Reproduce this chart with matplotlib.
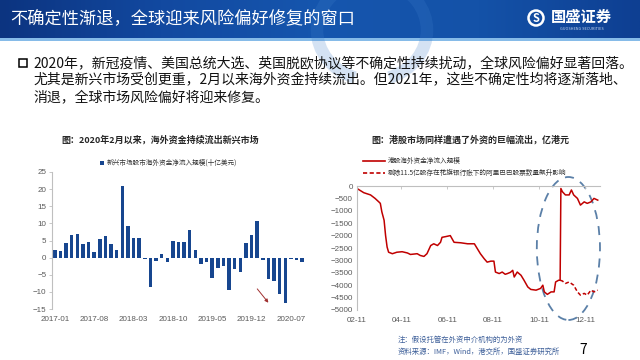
import numpy as np
import pandas as pd
import matplotlib
matplotlib.use('Agg')
import matplotlib.pyplot as plt
import matplotlib.dates as mdates
from matplotlib.patches import Rectangle, Ellipse, Arc, Circle
from matplotlib.colors import LinearSegmentedColormap

plt.rcParams['font.family'] = ['Noto Sans CJK SC', 'DejaVu Sans']

W, H = 640, 360

# 左图：新兴市场股市海外资金净流入规模（十亿美元），2017-01 ~ 2020-09
em_months = pd.date_range('2017-01-01', periods=45, freq='MS').strftime('%Y-%m')
em_flows = [2.3, 1.9, 4.2, 6.6, 6.8, 3.9, 4.5, 1.6, 5.3, 6.2, 4.1, 2.1,
            21.0, 9.2, 5.8, 5.6, -0.4, -8.6, -1.0, 1.2, -1.4, 4.8, 4.7, 4.7,
            8.2, 2.3, -2.0, -1.2, -6.0, -3.0, -2.3, -9.5, -3.2, -4.2, 4.3, 6.5,
            10.6, -0.8, -6.3, -6.9, -10.5, -13.3, -0.4, -0.6, -1.3]
em_tick_idx = [0, 7, 14, 21, 28, 35, 42]

# 右图：港股海外资金净流入规模（亿港元），2019年
hk_dates = ['02-11', '02-20', '03-01', '03-07', '03-12', '03-14', '03-16', '03-19',
            '03-21', '03-23', '03-25', '03-30', '04-05', '04-12', '04-19', '04-23',
            '05-02', '05-06', '05-11', '05-15', '05-20', '05-24', '05-29', '06-02',
            '06-04', '06-09', '06-15', '06-20', '06-29', '07-08', '07-17', '07-21',
            '07-25', '07-30', '08-03', '08-08', '08-12', '08-14', '08-19', '08-23',
            '08-27', '08-30', '09-03', '09-06', '09-08', '09-12', '09-17', '09-21',
            '09-26', '09-30', '10-07', '10-13', '10-16', '10-18', '10-22', '10-27',
            '10-31', '11-02', '11-06', '11-08', '11-09', '11-11', '11-15', '11-20',
            '11-23', '11-26', '12-01', '12-05', '12-10', '12-14', '12-19', '12-23',
            '12-28']
hk_flows = [-100, -270, -360, -500, -640, -700, -1040, -1380,
            -2000, -2460, -2670, -2730, -2670, -2650, -2700, -2760,
            -2730, -2800, -2840, -2730, -2400, -2330, -2400, -2270,
            -2070, -2040, -2000, -2270, -2290, -2330, -2330, -2530,
            -2730, -2930, -3070, -3030, -3030, -3470, -3530, -3470,
            -3560, -3530, -3480, -3400, -3670, -3470, -3600, -3800,
            -4070, -4170, -4200, -4130, -4000, -4270, -4370, -4270,
            -4270, -3870, -3800, -3800, -100, -230, -360, -360,
            -160, -360, -500, -770, -640, -700, -640, -500,
            -570]

# 剔除阿里巴巴股票数量飙升影响后的序列
adj_dates = ['11-08', '11-11', '11-15', '11-20', '11-26', '12-01', '12-05',
             '12-10', '12-14', '12-19', '12-23', '12-28']
adj_flows = [-3800, -3830, -3930, -3870, -4000, -4270, -4400,
             -4330, -4400, -4200, -4270, -4200]
hk_ticks = ['02-11', '04-11', '06-11', '08-11', '10-11', '12-11']


def box(l, t, r, b):
    return [l / W, 1 - b / H, (r - l) / W, (b - t) / H]


def to_dt(lst):
    return pd.to_datetime(['2019-' + d for d in lst])


fig = plt.figure(figsize=(6.4, 3.6), dpi=100)
fig.patch.set_facecolor('white')

# 背景层（像素坐标）
bg = fig.add_axes([0, 0, 1, 1], zorder=0)
cmap = LinearSegmentedColormap.from_list('hdr', ['#0c3480', '#1249a0', '#1656ae', '#1452a8', '#0e3f92'])
grad = np.linspace(0, 1, 256).reshape(1, -1)
bg.imshow(grad, cmap=cmap, extent=(0, 640, 38, 0), aspect='auto')
bg.add_patch(Rectangle((0, 38), 640, 3, color='#86bbe8', lw=0))
for cx, t1, t2 in [(372, 110, 250), (372, -70, 70)]:
    bg.add_patch(Arc((cx, 30), 110, 100, theta1=t1, theta2=t2, lw=9, color='#3f7fcc', alpha=0.22))
bg.set_xlim(0, W)
bg.set_ylim(H, 0)
bg.axis('off')

bg.text(10, 19, '不确定性渐退，全球迎来风险偏好修复的窗口', color='white', fontsize=12.4, va='center', ha='left')
bg.add_patch(Circle((536, 18), 7.5, fill=False, ec='white', lw=1.8))
bg.text(536, 18.5, 'S', color='white', fontsize=8, fontweight='bold', ha='center', va='center')
bg.text(551, 17, '国盛证券', color='white', fontsize=11, fontweight='bold', ha='left', va='center')
bg.text(582, 29, 'GUOSHENG SECURITIES', color='#c8d8f0', fontsize=2.8, ha='center', va='center')

# 正文
bg.add_patch(Rectangle((19, 59), 8, 8, fill=False, ec='black', lw=1.1))
body = ['2020年，新冠疫情、美国总统大选、英国脱欧协议等不确定性持续扰动，全球风险偏好显著回落。',
        '尤其是新兴市场受创更重，2月以来海外资金持续流出。但2021年，这些不确定性均将逐渐落地、',
        '消退，全球市场风险偏好将迎来修复。']
for i, line in enumerate(body):
    bg.text(33, 63 + 17 * i, line, fontsize=10, color='#111111', ha='left', va='center')

# 图标题
bg.text(160, 140, '图：2020年2月以来，海外资金持续流出新兴市场', fontsize=6.5, fontweight='bold',
        color='#262626', ha='center', va='center')
bg.text(470, 140, '图：港股市场同样遭遇了外资的巨幅流出，亿港元', fontsize=6.5, fontweight='bold',
        color='#262626', ha='center', va='center')

# 左图图例
bg.add_patch(Rectangle((100, 161), 4, 4, color='#17468f', lw=0))
bg.text(107, 163, '新兴市场股市海外资金净流入规模(十亿美元)', fontsize=4.8, color='#333333', va='center')

# 右图图例
bg.plot([363, 385], [161, 161], color='#c00000', lw=1.2)
bg.plot([363, 385], [173, 173], color='#c00000', lw=1.2, ls=(0, (2.5, 1.5)))
bg.text(388, 161, '港股海外资金净流入规模', fontsize=4.8, color='#333333', va='center')
bg.text(388, 173, '剔除11.5亿股存在花旗银行账下的阿里巴巴股票数量飙升影响', fontsize=4.8, color='#333333', va='center')

# 脚注
bg.text(398, 340, '注：假设托管在外资中介机构的为外资', fontsize=5.3, color='#3d5f99', va='center')
bg.text(398, 352, '资料来源：IMF，Wind，港交所，国盛证券研究所', fontsize=5.3, color='#3d5f99', va='center')
bg.text(583, 350, '7', fontsize=10, color='black', ha='center', va='center')

# 左图：柱状图
ax1 = fig.add_axes(box(52, 172, 305, 309), zorder=2)
ax1.patch.set_alpha(0)
x = np.arange(len(em_flows))
ax1.bar(x, em_flows, width=0.62, color='#17468f')
ax1.set_xlim(-0.5, len(em_flows) - 0.5)
ax1.set_ylim(-15, 25)
ax1.set_yticks(range(-15, 30, 5))
ax1.set_xticks(em_tick_idx)
ax1.set_xticklabels([em_months[i] for i in em_tick_idx])
for s in ['top', 'right', 'bottom']:
    ax1.spines[s].set_visible(False)
ax1.spines['left'].set_color('#bfbfbf')
ax1.spines['left'].set_linewidth(0.8)
ax1.tick_params(axis='y', length=2, width=0.6, color='#bfbfbf', pad=2,
                labelsize=5.8, labelcolor='#595959')
ax1.tick_params(axis='x', length=0, pad=5, labelsize=5.8, labelcolor='#595959')
for lab in ax1.get_xticklabels() + ax1.get_yticklabels():
    lab.set_family(['Liberation Sans', 'DejaVu Sans'])
ax1.annotate('', xy=(38.3, -13.8), xytext=(35.7, -8.5),
             arrowprops=dict(arrowstyle='-|>', color='#a03030', lw=0.7, mutation_scale=5))

# 右图：折线图
ax2 = fig.add_axes(box(357, 186, 600, 310), zorder=2)
ax2.patch.set_alpha(0)
ax2.plot(to_dt(hk_dates), hk_flows, color='#c00000', lw=1.1)
ax2.plot(to_dt(adj_dates), adj_flows, color='#c00000', lw=1.1, ls=(0, (2.5, 1.5)))
ax2.set_xlim(pd.Timestamp('2019-02-11'), pd.Timestamp('2019-12-31'))
ax2.set_ylim(-5000, 0)
ax2.set_yticks(range(-5000, 1, 500))
ax2.set_xticks(to_dt(hk_ticks))
ax2.xaxis.set_major_formatter(mdates.DateFormatter('%m-%d'))
for s in ['right', 'bottom']:
    ax2.spines[s].set_visible(False)
for s in ['top', 'left']:
    ax2.spines[s].set_color('#bfbfbf')
    ax2.spines[s].set_linewidth(0.8)
ax2.tick_params(axis='x', top=True, bottom=False, labelbottom=True, labeltop=False,
                direction='in', length=2.5, width=0.6, color='#bfbfbf', pad=5,
                labelsize=5.8, labelcolor='#595959')
ax2.tick_params(axis='y', length=0, pad=3, labelsize=5.8, labelcolor='#595959')
for lab in ax2.get_xticklabels() + ax2.get_yticklabels():
    lab.set_family(['Liberation Sans', 'DejaVu Sans'])
ell_c = mdates.date2num(pd.Timestamp('2019-11-19'))
ax2.add_patch(Ellipse((ell_c, -2520), 84, 5766, fill=False, ec='#5b80a8', lw=1.3,
                      ls=(0, (5, 4)), clip_on=False))

fig.savefig('out.png', dpi=100)
